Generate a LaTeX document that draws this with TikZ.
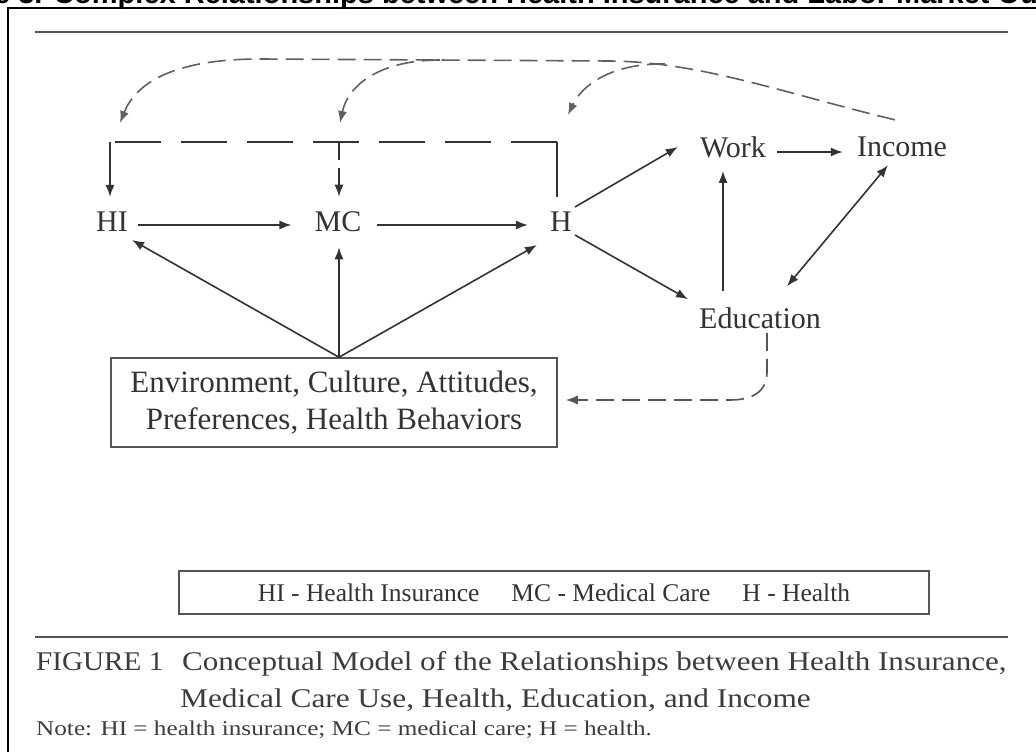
\documentclass[tikz,border=0pt]{standalone}
\usepackage{fontspec}
\usepackage{graphicx}
\setmainfont{Liberation Serif}
\newfontfamily\titlefont{Liberation Sans}
\usetikzlibrary{arrows.meta}

\definecolor{inkgray}{HTML}{333333}
\definecolor{rulegray}{HTML}{555555}
\definecolor{curvegray}{HTML}{606060}
\definecolor{capgray}{HTML}{3c3c3c}

\tikzset{
  lbl/.style={inner sep=0pt, text=inkgray, font=\fontsize{30}{36}\selectfont},
  link/.style={inkgray, line width=1.6pt, -{Latex[length=12pt,width=9pt]}},
  feedback/.style={curvegray, line width=1.6pt, dash pattern=on 18pt off 8pt, -{Latex[length=12pt,width=9pt]}},
  longbar/.style={inkgray, line width=1.6pt, dash pattern=on 46pt off 20pt},
  captxt/.style={anchor=base west, inner sep=0pt, text=capgray, font=\fontsize{27}{30}\selectfont},
}

\begin{document}
\begin{tikzpicture}[x=1pt, y=-1pt]
    \useasboundingbox (0,0) rectangle (1036,752);
    % title (cut by the page) and frame
    \node[anchor=base west, inner sep=0pt, font=\titlefont\bfseries\fontsize{29}{30}\selectfont] (title) at (-6,4)
        {e 3. Complex Relationships between Health Insurance and Labor Market Out};
    \draw[black, line width=2pt] (8,780) -- (8,8) -- (1060,8);
    \draw[rulegray, line width=2pt] (35,32) -- (1008,32);
    %
    \node[lbl] (hi) at (112,222) {HI};
    \node[lbl] (mc) at (338,222) {MC};
    \node[lbl] (h) at (561,222) {H};
    \node[lbl] (work) at (733,147) {Work};
    \node[lbl] (income) at (902,147) {Income};
    \node[lbl] (edu) at (760,318) {Education};
    \node[draw=rulegray, line width=1.5pt, inner sep=0pt, text=inkgray, align=center,
          minimum width=446pt, minimum height=89pt, font=\fontsize{31}{37}\selectfont] (env) at (334,402.5)
        {Environment, Culture, Attitudes,\\Preferences, Health Behaviors};
    %
    \draw[link] ([shift={(10,3)}]hi.east) -- ([shift={(-23,3)}]mc.west);
    \draw[link] ([shift={(15,3)}]mc.east) -- ([shift={(-22,3)}]h.west);
    \coordinate (src) at ([xshift=5pt]env.north);
    \draw[link] (src) -- ([shift={(4,8)}]hi.south east);
    \draw[link] (src) -- ([shift={(1,15)}]mc.south);
    \draw[link] (src) -- ([shift={(-13,13)}]h.south west);
    \draw[link] ([shift={(3,-5)}]h.north east) -- ([shift={(-22,0)}]work.west);
    \draw[link] ([shift={(3,3)}]h.south east) -- ([shift={(-11,-8)}]edu.north west);
    \draw[link] ([shift={(11,5)}]work.east) -- ([shift={(-14,5)}]income.west);
    \draw[link] ([shift={(-37,-16)}]edu.north) -- ([shift={(-10,13)}]work.south);
    \draw[link, {Latex[length=12pt,width=9pt]}-{Latex[length=12pt,width=9pt]}]
        ([shift={(-14,8)}]income.south) -- ([shift={(-34,-21)}]edu.north east);
    %
    \coordinate (barR) at (557,142);
    \coordinate (barM) at (339,142);
    \coordinate (barL) at (110,142);
    \draw[inkgray, line width=1.6pt] ([shift={(-4,-15)}]h.north) -- (barR);
    \draw[longbar] (barR) -- (barL);
    \draw[link] (barL) -- ([shift={(-2,-15)}]hi.north);
    \draw[feedback, inkgray] (barM) -- ([shift={(1,-15)}]mc.north);
    %
    \coordinate (toHI) at (120,123);
    \coordinate (toMC) at (340,123);
    \coordinate (toH) at (568,115);
    \draw[feedback] ([shift={(38,-17)}]income.north west) .. controls (780,92) and (700,62) .. (610,61)
        -- (260,59) .. controls (170,59) and (135,85) .. (toHI);
    \draw[feedback] (440,60) .. controls (380,60) and (348,85) .. (toMC);
    \draw[feedback] (665,64) .. controls (612,63) and (582,85) .. (toH);
    \draw[feedback, rulegray] ([shift={(7,4)}]edu.south) -- (767,372) .. controls (767,392) and (752,400) .. (730,400)
        -- ([shift={(8,-2.5)}]env.east);
    %
    \node[draw=rulegray, line width=1.5pt, inner sep=0pt, text=inkgray, minimum width=750pt, minimum height=43pt,
          font=\fontsize{25.5}{30}\selectfont] (legend) at (554,592.5)
        {HI - Health Insurance\hspace{32pt}MC - Medical Care\hspace{32pt}H - Health};
    \draw[rulegray, line width=2pt] (35,637) -- (1008,637);
    \node[captxt] (fig) at (36,670) {\scalebox{1.08}[1]{FIGURE 1}};
    \node[captxt] (cap1) at (182,670) {\scalebox{1.15}[1]{Conceptual Model of the Relationships between Health Insurance,}};
    \node[captxt] (cap2) at (180,707) {\scalebox{1.16}[1]{Medical Care Use, Health, Education, and Income}};
    \node[captxt, font=\fontsize{21}{24}\selectfont] (note) at (36,735)
        {\scalebox{1.2}[1]{Note: HI = health insurance; MC = medical care; H = health.}};
\end{tikzpicture}
\end{document}
